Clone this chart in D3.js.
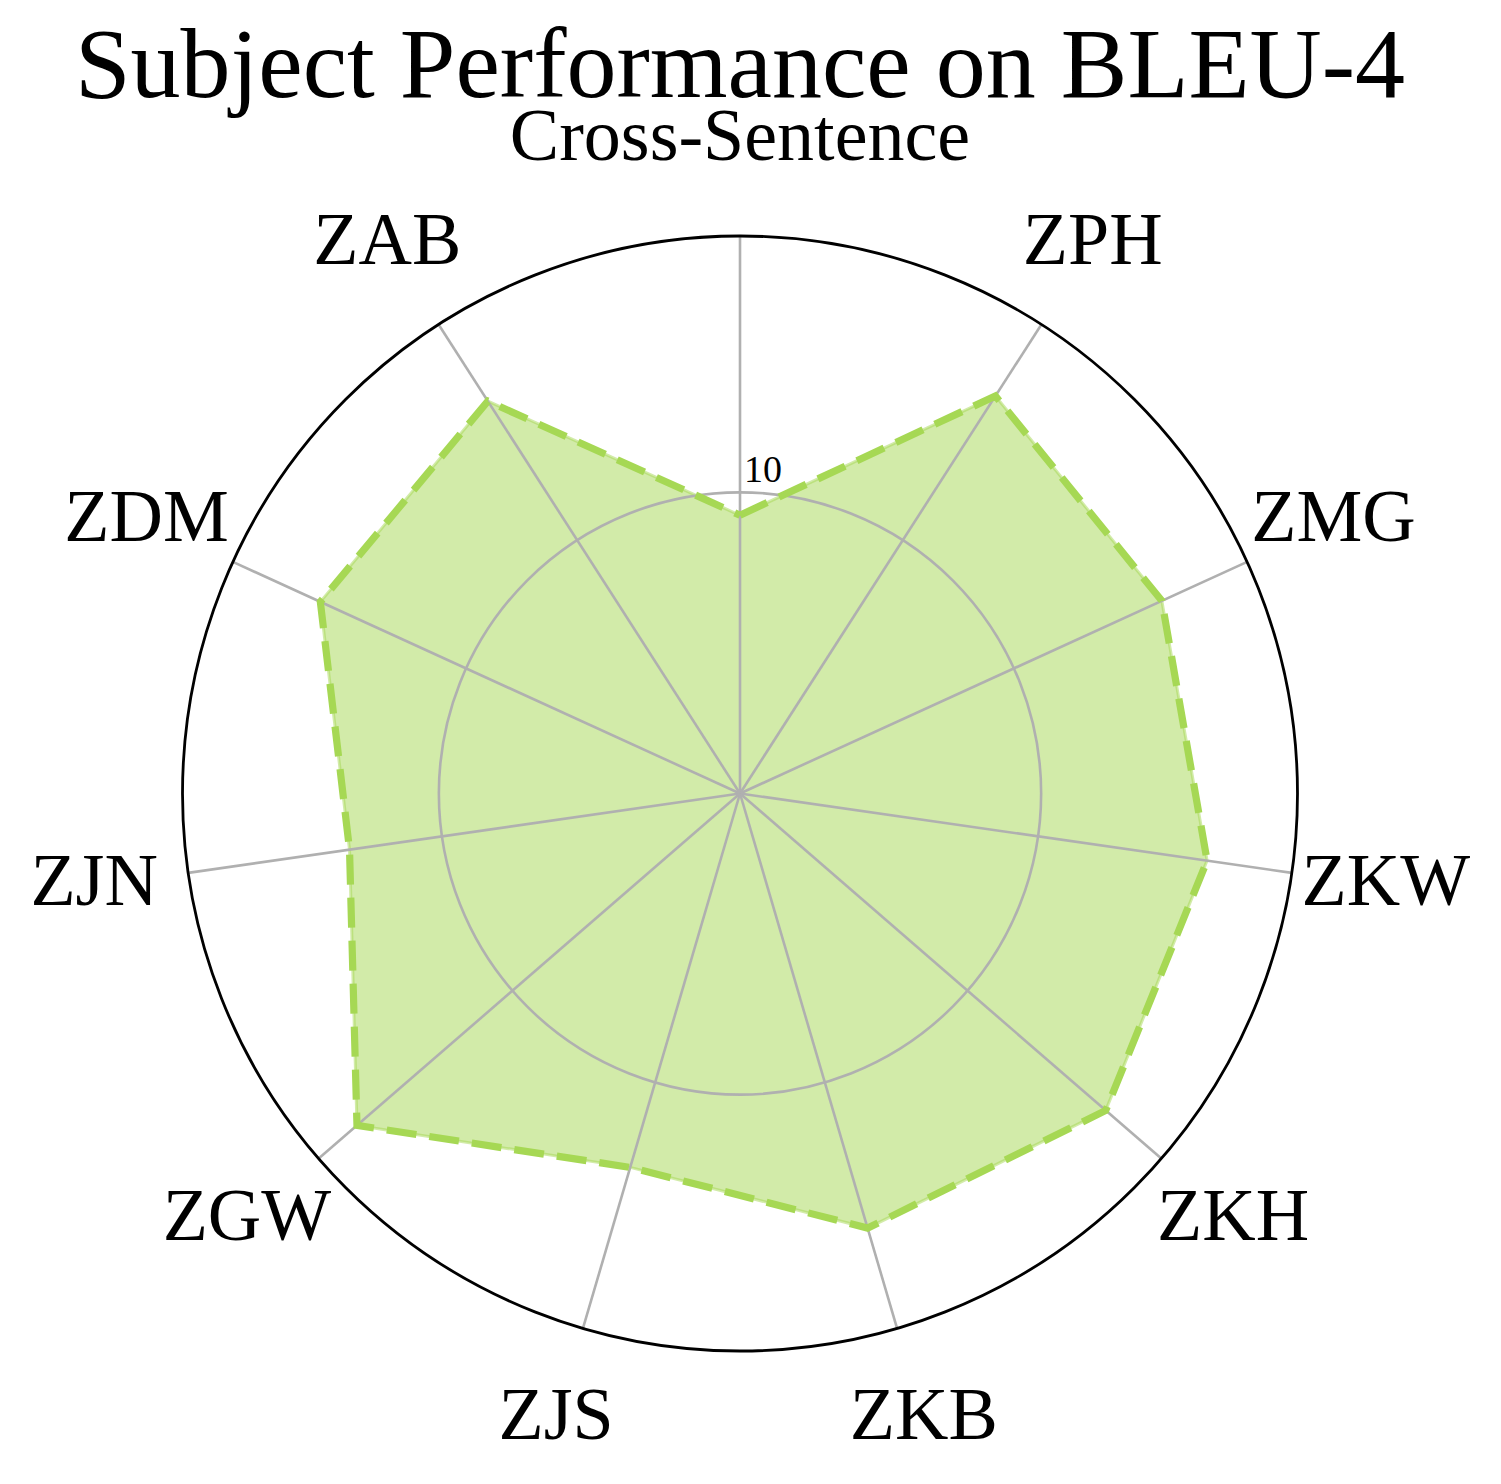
<!DOCTYPE html>
<html>
<head>
<meta charset="utf-8">
<script src="https://cdn.jsdelivr.net/npm/d3@7"></script>
<style>
  html, body { margin: 0; padding: 0; background: #fff; }
  svg { display: block; }
  text { font-family: "Liberation Serif", "Times New Roman", serif; fill: #000; }
</style>
</head>
<body>
<script>
const categories = ["Cross-Sentence", "ZPH", "ZMG", "ZKW", "ZKH", "ZKB", "ZJS", "ZGW", "ZJN", "ZDM", "ZAB"];
const values = [9.24, 15.69, 15.40, 15.67, 16.07, 15.04, 12.94, 16.83, 13.10, 15.32, 15.49];
const radialTicks = [10];
const titleText = "Subject Performance on BLEU-4";

const W = 1501, H = 1484;
const cx = 740, cy = 793.5, R = 557.5;

const svg = d3.select("body").append("svg").attr("width", W).attr("height", H);
const g = svg.append("g").attr("transform", `translate(${cx},${cy})`);

const rMax = d3.max(values) * 1.1;
const r = d3.scaleLinear().domain([0, rMax]).range([0, R]);
const angle = d3.scaleLinear().domain([0, categories.length]).range([0, 2 * Math.PI]);

const px = (a, rad) => rad * Math.sin(a);
const py = (a, rad) => -rad * Math.cos(a);

// fill polygon
const closed = values.map((v, i) => [i, v]).concat([[categories.length, values[0]]]);
const radial = d3.lineRadial().angle(d => angle(d[0])).radius(d => r(d[1]));

g.append("path")
  .attr("d", radial(closed) + "Z")
  .attr("fill", "#a6d854").attr("fill-opacity", 0.5)
  .attr("stroke", "#a6d854").attr("stroke-opacity", 0.5)
  .attr("stroke-width", 3).attr("stroke-linejoin", "miter");

// grid circles
g.selectAll("circle.grid").data(radialTicks).join("circle")
  .attr("class", "grid").attr("r", d => r(d))
  .attr("fill", "none").attr("stroke", "#b0b0b0").attr("stroke-width", 2.6);

// spokes
g.selectAll("line.spoke").data(categories).join("line")
  .attr("x1", 0).attr("y1", 0)
  .attr("x2", (d, i) => px(angle(i), R)).attr("y2", (d, i) => py(angle(i), R))
  .attr("stroke", "#b0b0b0").attr("stroke-width", 2.6);

// dashed outline
g.append("path")
  .attr("d", radial(closed))
  .attr("fill", "none").attr("stroke", "#a6d854")
  .attr("stroke-width", 7.2).attr("stroke-dasharray", "30,13")
  .attr("stroke-linejoin", "miter");

// outer circle
g.append("circle").attr("r", R).attr("fill", "none")
  .attr("stroke", "#000").attr("stroke-width", 2.8);

// radial tick labels
g.selectAll("text.rtick").data(radialTicks).join("text")
  .attr("class", "rtick")
  .attr("x", 4).attr("y", d => -r(d) - 10)
  .attr("font-size", 38).attr("text-anchor", "start")
  .text(d => d);

// category labels
const labelR = R + 95;
g.selectAll("text.cat").data(categories).join("text")
  .attr("class", "cat")
  .attr("x", (d, i) => px(angle(i), labelR))
  .attr("y", (d, i) => py(angle(i), labelR) - 6)
  .attr("text-anchor", "middle").attr("dominant-baseline", "central")
  .attr("font-size", 74)
  .text(d => d);

// title
svg.append("text").attr("x", cx).attr("y", 97)
  .attr("text-anchor", "middle").attr("font-size", 100)
  .text(titleText);
</script>
</body>
</html>
